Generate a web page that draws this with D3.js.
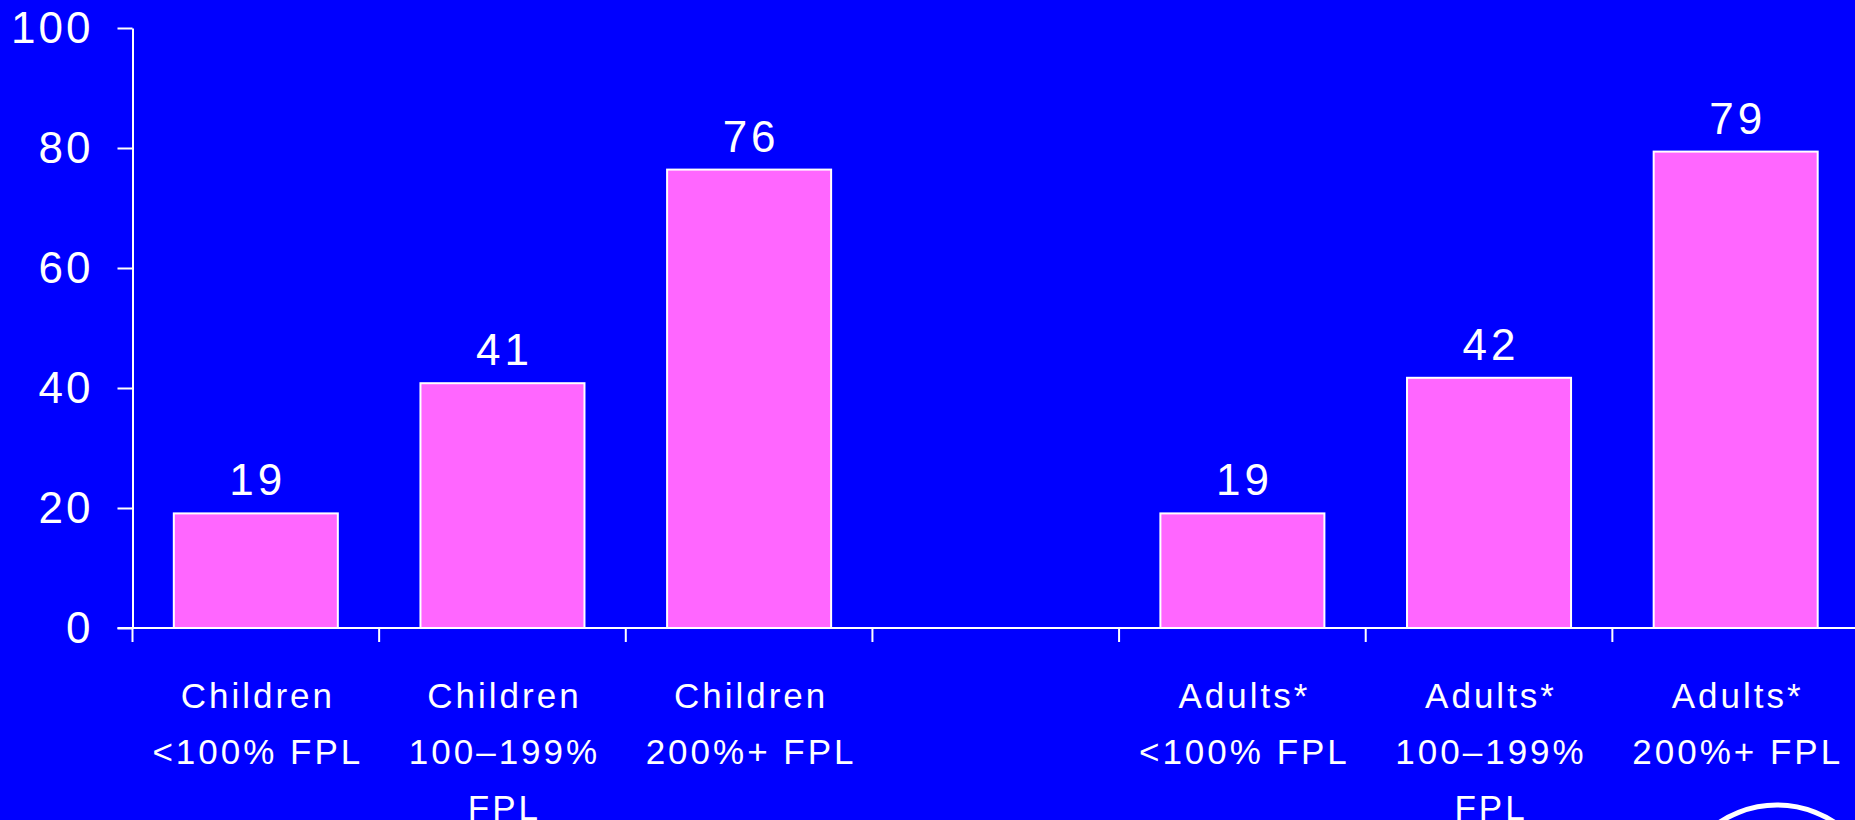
<!DOCTYPE html>
<html>
<head>
<meta charset="utf-8">
<script src="https://cdn.jsdelivr.net/npm/d3@7"></script>
<style>
  html, body { margin: 0; padding: 0; background: #0000FF; overflow: hidden; }
  svg { display: block; }
  text { font-family: "Liberation Sans", Arial, sans-serif; fill: #ffffff; }
</style>
</head>
<body>
<svg id="chart" width="1855" height="820"></svg>
<script>
// ---- Data ----
const categories = ["c1", "c2", "c3", "gap", "a1", "a2", "a3"];
const labelLines = [
  ["Children", "<100% FPL"],
  ["Children", "100\u2013199%", "FPL"],
  ["Children", "200%+ FPL"],
  [],
  ["Adults*", "<100% FPL"],
  ["Adults*", "100\u2013199%", "FPL"],
  ["Adults*", "200%+ FPL"]
];
const values = [19.1, 40.8, 76.4, null, 19.1, 41.7, 79.4];
const yTicks = [0, 20, 40, 60, 80, 100];

// ---- Layout ----
const W = 1855, H = 820;
const x0 = 132.5, x1 = 1859;
const yTop = 28, yBottom = 628;

const svg = d3.select("#chart");
svg.append("rect").attr("width", W).attr("height", H).attr("fill", "#0000FF");

const x = d3.scaleBand().domain(categories).range([x0, x1]).padding(0);
const y = d3.scaleLinear().domain([0, 100]).range([yBottom, yTop]);

const bw = x.bandwidth();
const barW = bw * 0.665;
const barOff = (bw - barW) / 2;

// Bars
const data = categories.map((c, i) => ({ c, v: values[i], lines: labelLines[i] }));
svg.append("g").selectAll("rect")
  .data(data.filter(d => d.v !== null))
  .join("rect")
  .attr("x", d => x(d.c) + barOff)
  .attr("y", d => y(d.v))
  .attr("width", barW)
  .attr("height", d => y(0) - y(d.v))
  .attr("fill", "#FF66FF")
  .attr("stroke", "#ffffff")
  .attr("stroke-width", 2);

// Value labels
svg.append("g").selectAll("text")
  .data(data.filter(d => d.v !== null))
  .join("text")
  .attr("x", d => x(d.c) + bw / 2 + 2)
  .attr("y", d => y(d.v) - 18)
  .attr("text-anchor", "middle")
  .attr("font-size", 44)
  .attr("letter-spacing", 4)
  .text(d => Math.round(d.v));

// Y axis
const yAxis = d3.axisLeft(y).tickValues(yTicks).tickSize(15).tickSizeOuter(0).tickPadding(24);
const gy = svg.append("g").attr("transform", `translate(${x0},0)`).call(yAxis);
gy.select(".domain").attr("stroke", "#fff").attr("stroke-width", 2);
gy.selectAll(".tick line").attr("stroke", "#fff").attr("stroke-width", 2);
gy.selectAll(".tick text")
  .attr("fill", "#fff")
  .attr("font-size", 44)
  .attr("letter-spacing", 3)
  .attr("font-family", "Liberation Sans, Arial, sans-serif");

// X axis line and ticks at band edges
svg.append("line")
  .attr("x1", x0 - 15).attr("x2", W)
  .attr("y1", yBottom).attr("y2", yBottom)
  .attr("stroke", "#fff").attr("stroke-width", 2);
svg.append("g").selectAll("line")
  .data(categories)
  .join("line")
  .attr("x1", d => x(d)).attr("x2", d => x(d))
  .attr("y1", yBottom).attr("y2", yBottom + 14)
  .attr("stroke", "#fff").attr("stroke-width", 2);

// Category labels
const lab = svg.append("g").selectAll("text")
  .data(data)
  .join("text")
  .attr("text-anchor", "middle")
  .attr("font-size", 35)
  .attr("letter-spacing", 3);
lab.each(function(d) {
  const t = d3.select(this);
  d.lines.forEach((ln, i) => {
    t.append("tspan")
      .attr("x", x(d.c) + bw / 2 + 2)
      .attr("y", 708 + i * 56)
      .text(ln);
  });
});

// Partial logo circle at bottom right
svg.append("circle")
  .attr("cx", 1777).attr("cy", 909).attr("r", 104)
  .attr("fill", "none").attr("stroke", "#fff").attr("stroke-width", 5);
</script>
</body>
</html>
